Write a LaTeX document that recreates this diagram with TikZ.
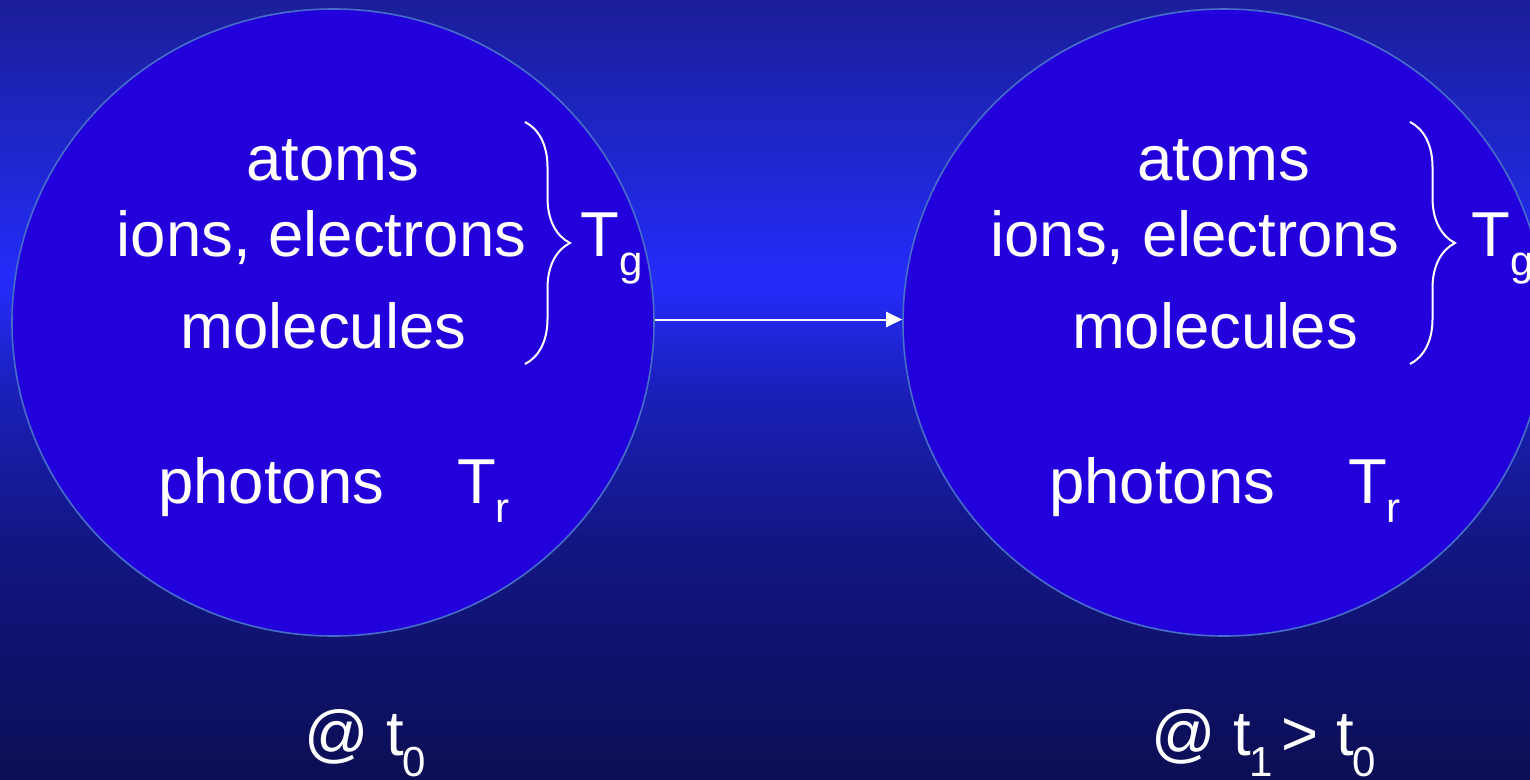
\documentclass[tikz,border=0pt]{standalone}
\usepackage{fontspec}
\setmainfont{Liberation Sans}
\usetikzlibrary{arrows.meta,decorations.pathreplacing,shapes.geometric}

\definecolor{bgtop}{RGB}{26,30,152}
\definecolor{bgupper}{RGB}{30,38,200}
\definecolor{bgpeak}{RGB}{36,44,252}
\definecolor{bglower}{RGB}{26,32,185}
\definecolor{bgdeep}{RGB}{18,22,130}
\definecolor{bgbottom}{RGB}{12,14,84}
\definecolor{blobfill}{RGB}{34,0,220}
\definecolor{blobline}{RGB}{70,110,200}

% background: dark at the edges, brightest about a third of the way down
\pgfdeclareverticalshading{skyshade}{100bp}{%
  color(0bp)=(bgbottom); color(25bp)=(bgbottom);
  color(40bp)=(bgdeep); color(50bp)=(bglower);
  color(57bp)=(bgpeak); color(66bp)=(bgupper);
  color(75bp)=(bgtop); color(100bp)=(bgtop)}

\tikzset{
  blob/.style={ellipse, draw=blobline, line width=1.6pt, fill=blobfill,
    minimum width=642pt, minimum height=627pt, inner sep=0pt},
  big/.style={text=white, inner sep=0pt, anchor=base,
    font=\fontsize{63.5}{70}\selectfont},
  bigw/.style={big, anchor=base west},
  small/.style={text=white, inner sep=0pt, anchor=base west,
    font=\fontsize{42}{46}\selectfont},
  bracket/.style={draw=white, line width=2pt,
    decorate, decoration={brace, amplitude=45pt, aspect=0.5}},
  flow/.style={draw=white, line width=2pt,
    -{Triangle[length=16pt,width=15pt]}}
}

\begin{document}
\begin{tikzpicture}[x=1pt,y=-1pt]
\useasboundingbox (0,0) rectangle (1530,779);
\clip (0,0) rectangle (1530,779);
\shade[shading=skyshade] (0,0) rectangle (1530,779);

% the two states of the medium
\node[blob] (c0) at (333,322.5) {};
\node[blob] (c1) at (1224,322.5) {};

% left: state at t0
\node[big] (a0) at (333,180) {atoms};
\node[big] (i0) at (321.5,256) {ions, electrons};
\node[big] (m0) at (323.5,348) {molecules};
\node[bigw] (p0) at (158,503) {photons};
\node[bigw] (tr0) at (457,503) {T};
\node[small] (r0) at (495,522) {r};
\coordinate (b0t) at (525,122);
\coordinate (b0b) at (525,364);
\draw[bracket] (b0t) -- (b0b);
\node[bigw] (tg0) at (580,256) {T};
\node[small] (g0) at (619,275) {g};
\node[bigw] (at0) at (304,755) {@};
\node[bigw] (t0) at (386,755) {t};
\node[small] (s0) at (402,776) {0};

% right: state at t1
\node[big] (a1) at (1224,180) {atoms};
\node[big] (i1) at (1195,256) {ions, electrons};
\node[big] (m1) at (1215,348) {molecules};
\node[bigw] (p1) at (1049,503) {photons};
\node[bigw] (tr1) at (1348,503) {T};
\node[small] (r1) at (1386,522) {r};
\coordinate (b1t) at (1410,122);
\coordinate (b1b) at (1410,364);
\draw[bracket] (b1t) -- (b1b);
\node[bigw] (tg1) at (1471,256) {T};
\node[small] (g1) at (1510,275) {g};
\node[bigw] (at1) at (1151,755) {@};
\node[bigw] (t1) at (1233,755) {t};
\node[small] (s1) at (1249,776) {1};
\node[bigw] (gt1) at (1281,755) {>};
\node[bigw] (tt1) at (1336,755) {t};
\node[small] (ss1) at (1352,776) {0};

% evolution in time
\draw[flow] ([yshift=3pt]c0.east) -- ([yshift=3pt]c1.west);
\end{tikzpicture}
\end{document}
